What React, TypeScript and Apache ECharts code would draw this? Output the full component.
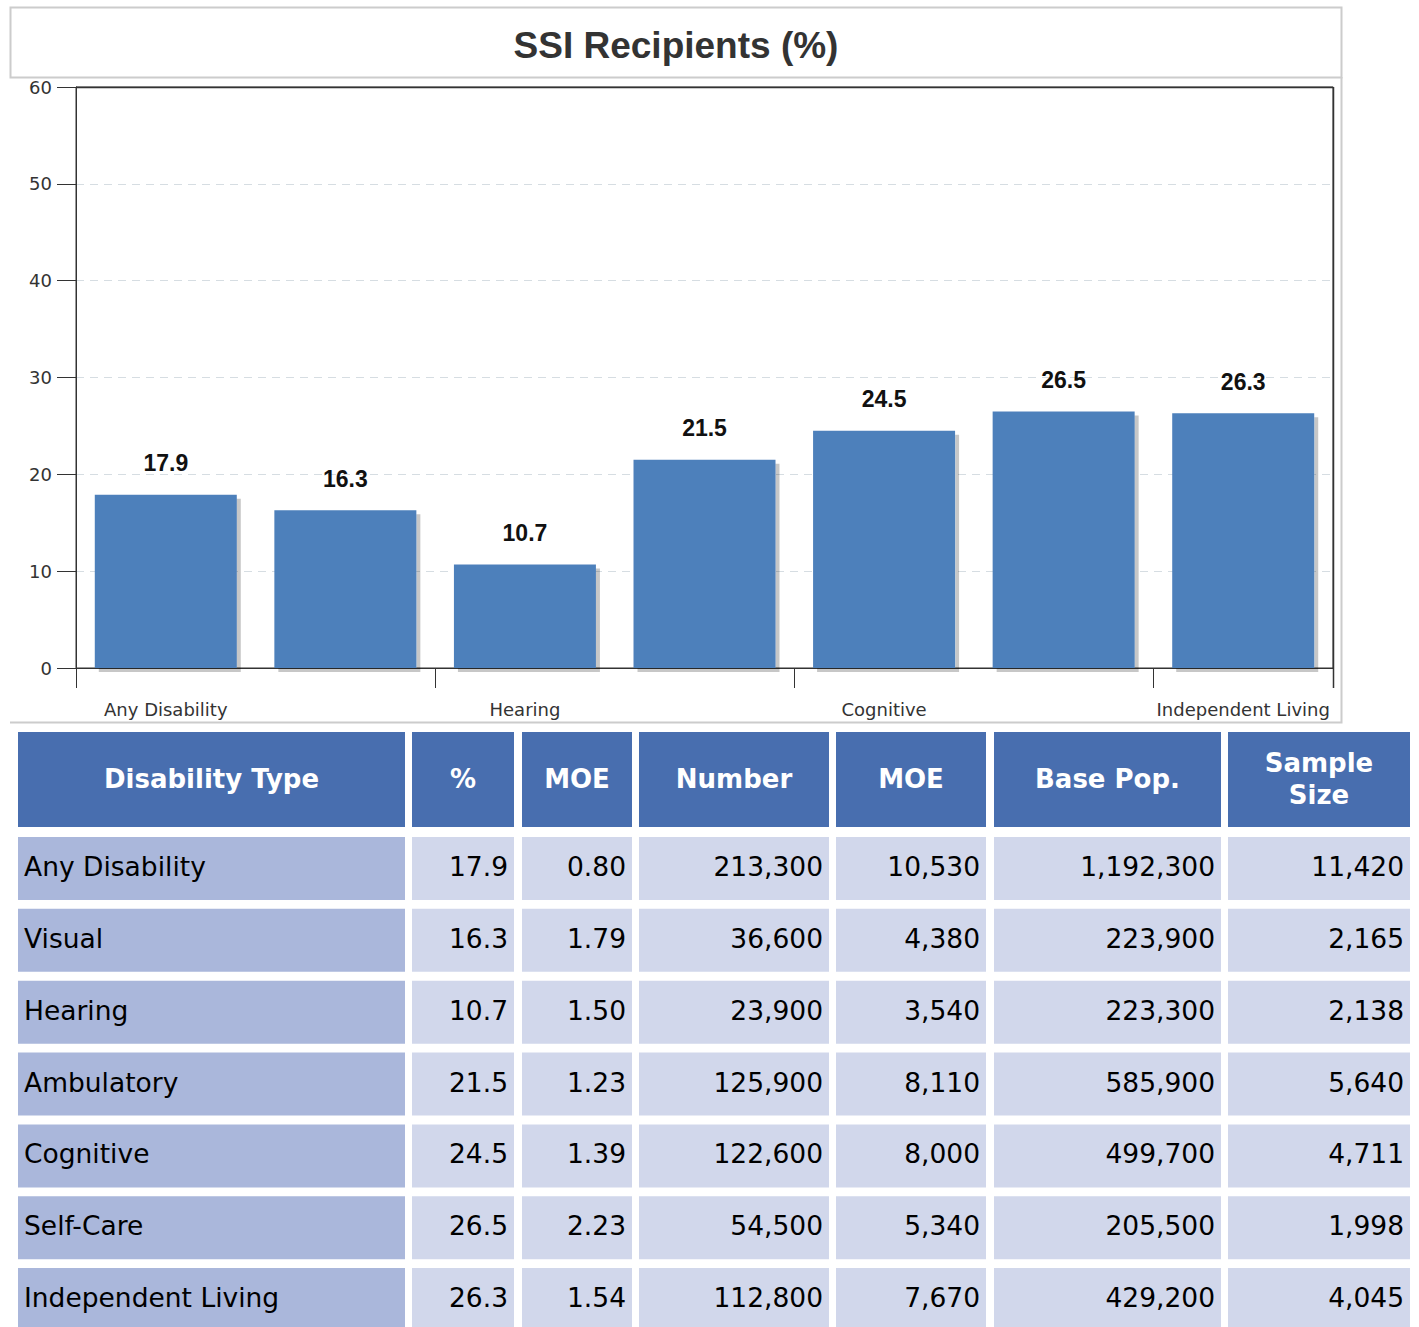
import React, { useEffect, useRef } from "react";
import * as echarts from "echarts";

const categories = ["Any Disability", "Visual", "Hearing", "Ambulatory", "Cognitive", "Self-Care", "Independent Living"];
const pctValues = [17.9, 16.3, 10.7, 21.5, 24.5, 26.5, 26.3];
const pctMoe = ["0.80", "1.79", "1.50", "1.23", "1.39", "2.23", "1.54"];
const numberValues = [213300, 36600, 23900, 125900, 122600, 54500, 112800];
const numberMoe = [10530, 4380, 3540, 8110, 8000, 5340, 7670];
const basePop = [1192300, 223900, 223300, 585900, 499700, 205500, 429200];
const sampleSize = [11420, 2165, 2138, 5640, 4711, 1998, 4045];
const tableHeaders = ["Disability Type", "%", "MOE", "Number", "MOE", "Base Pop.", "Sample\nSize"];
const yTicks = [0, 10, 20, 30, 40, 50, 60];

const W = 1419;
const H = 1327;

// table layout
const colEdges: [number, number][] = [
  [18, 405], [412, 514], [522, 632], [639, 829], [836, 986], [994, 1221], [1228, 1410],
];
const headerTop = 732;
const headerH = 95;
const rowTop = 837;
const rowPitch = 71.85;
const rowH = 63;

const fmt = (n: number) => n.toLocaleString("en-US");

function buildTable(): any[] {
  const els: any[] = [];
  colEdges.forEach(([x0, x1], c) => {
    els.push({
      type: "rect",
      shape: { x: x0, y: headerTop, width: x1 - x0, height: headerH },
      style: { fill: "#486eaf" },
      silent: true,
    });
    els.push({
      type: "text",
      x: (x0 + x1) / 2,
      y: headerTop + headerH / 2 - 1,
      style: {
        text: tableHeaders[c],
        fill: "#ffffff",
        font: "bold 26px 'DejaVu Sans'",
        align: "center",
        verticalAlign: "middle",
        lineHeight: 32,
      },
      silent: true,
    });
  });
  categories.forEach((cat, r) => {
    const y = rowTop + r * rowPitch;
    const cells = [
      cat,
      pctValues[r].toFixed(1),
      pctMoe[r],
      fmt(numberValues[r]),
      fmt(numberMoe[r]),
      fmt(basePop[r]),
      fmt(sampleSize[r]),
    ];
    colEdges.forEach(([x0, x1], c) => {
      els.push({
        type: "rect",
        shape: { x: x0, y, width: x1 - x0, height: rowH },
        style: { fill: c === 0 ? "#aab7db" : "#d1d7eb" },
        silent: true,
      });
      els.push({
        type: "text",
        x: c === 0 ? x0 + 6 : x1 - 6,
        y: y + rowH / 2 - 2,
        style: {
          text: cells[c],
          fill: "#000000",
          font: "26.5px 'DejaVu Sans'",
          align: c === 0 ? "left" : "right",
          verticalAlign: "middle",
        },
        silent: true,
      });
    });
  });
  return els;
}

export default function App() {
  const ref = useRef<HTMLDivElement>(null);
  useEffect(() => {
    document.body.style.margin = "0";
    if (!ref.current) return;
    const chart = echarts.init(ref.current, undefined, { renderer: "svg" });
    const option: any = {
      animation: false,
      backgroundColor: "#ffffff",
      grid: {
        left: 76,
        right: W - 1333,
        top: 87,
        bottom: H - 668,
        show: true,
        borderColor: "#333333",
        borderWidth: 1,
        backgroundColor: "transparent",
      },
      xAxis: {
        type: "category",
        data: categories,
        axisLine: { show: true, lineStyle: { color: "#333333", width: 1 } },
        axisTick: { show: true, interval: 1, length: 20, lineStyle: { color: "#333333" } },
        axisLabel: {
          interval: 1,
          margin: 32,
          fontSize: 18,
          fontFamily: "DejaVu Sans",
          color: "#333333",
        },
      },
      yAxis: {
        type: "value",
        min: 0,
        max: 60,
        interval: 10,
        axisLine: { show: true, lineStyle: { color: "#333333", width: 1 } },
        axisTick: { show: true, length: 19, lineStyle: { color: "#333333" } },
        axisLabel: {
          margin: 24,
          fontSize: 18,
          fontFamily: "DejaVu Sans",
          color: "#333333",
          formatter: (v: number) => (yTicks.includes(v) ? String(v) : ""),
        },
        splitLine: { show: true, lineStyle: { color: "#d6dde2", type: [8, 6], width: 1 } },
      },
      series: [
        {
          type: "bar",
          data: pctValues,
          barWidth: 142,
          itemStyle: {
            color: "#4e80bb",
            shadowColor: "rgba(0,0,0,0.22)",
            shadowOffsetX: 4,
            shadowOffsetY: 4,
            shadowBlur: 1,
          },
          label: {
            show: true,
            position: "top",
            distance: 20,
            fontSize: 23,
            fontWeight: "bold",
            fontFamily: "Liberation Sans",
            color: "#111111",
            formatter: (p: any) => Number(p.value).toFixed(1),
          },
        },
      ],
      graphic: [
        {
          type: "rect",
          shape: { x: 10.5, y: 7.5, width: 1331, height: 70 },
          style: { fill: "none", stroke: "#cccccc", lineWidth: 2 },
          silent: true,
        },
        {
          type: "polyline",
          shape: { points: [[1341.5, 77], [1341.5, 722.5], [10, 722.5]] },
          style: { fill: "none", stroke: "#cccccc", lineWidth: 2 },
          silent: true,
        },
        {
          type: "line",
          z: 100,
          shape: { x1: 76, y1: 87.5, x2: 1333.5, y2: 87.5 },
          style: { stroke: "#333333", lineWidth: 1.5 },
          silent: true,
        },
        {
          type: "line",
          z: 100,
          shape: { x1: 1333.5, y1: 87, x2: 1333.5, y2: 688 },
          style: { stroke: "#333333", lineWidth: 1.5 },
          silent: true,
        },
        {
          type: "text",
          x: 676,
          y: 45,
          style: {
            text: "SSI Recipients (%)",
            fill: "#333333",
            font: "bold 37px 'Liberation Sans'",
            align: "center",
            verticalAlign: "middle",
          },
          silent: true,
        },
        ...buildTable(),
      ],
    };
    chart.setOption(option);
    return () => chart.dispose();
  }, []);
  return <div ref={ref} style={{ width: W, height: H }} />;
}
